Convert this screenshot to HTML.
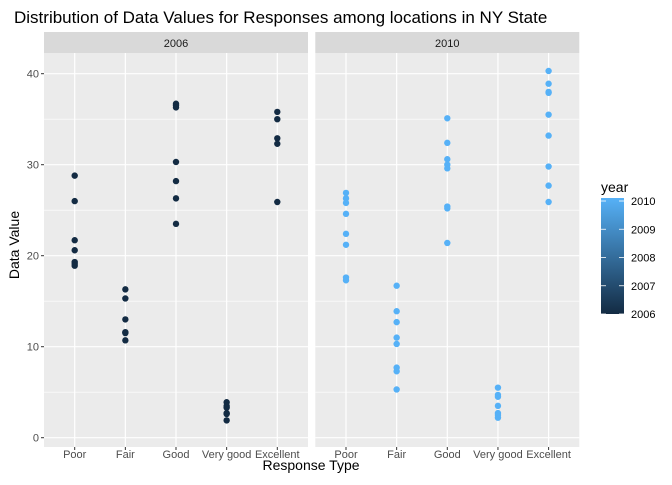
<!DOCTYPE html>
<html><head><meta charset="utf-8"><style>
body{margin:0;background:#fff;font-family:"Liberation Sans",sans-serif}
</style></head><body>
<svg id="c" width="672" height="480" xmlns="http://www.w3.org/2000/svg" font-family="Liberation Sans, sans-serif">
<defs><linearGradient id="g" x1="0" y1="1" x2="0" y2="0"><stop offset="0" stop-color="#132B43"/><stop offset="1" stop-color="#56B1F7"/></linearGradient></defs>
<text x="14" y="23" font-size="17" fill="#000">Distribution of Data Values for Responses among locations in NY State</text>
<g id="plot"></g>
<text x="311" y="470" font-size="14" text-anchor="middle">Response Type</text>
<text transform="translate(19,245) rotate(-90)" font-size="14" text-anchor="middle">Data Value</text>
<g>
<text x="601" y="192" font-size="14">year</text>
<rect x="601" y="198" width="23" height="116" fill="url(#g)"/>
<g id="leg"></g>
</g>
</svg>
<script>
const categories=["Poor","Fair","Good","Very good","Excellent"];
const panels=["2006","2010"];
const yTicks=[0,10,20,30,40];
const legendYears=[2006,2007,2008,2009,2010];
const v2006=[[28.8,26.0,21.7,20.6,19.3,19.1,18.9],[16.3,15.3,13.0,11.6,11.5,10.7],[36.7,36.5,36.3,30.3,28.2,26.3,23.5],[3.9,3.5,3.3,2.7,2.6,1.9],[35.8,35.0,32.9,32.3,25.9]];
const v2010=[[26.9,26.3,25.8,24.6,22.4,21.2,17.6,17.3],[16.7,13.9,12.7,11.0,10.3,7.7,7.3,5.3],[35.1,32.4,30.6,30.0,29.6,25.4,25.2,21.4],[5.5,4.7,4.5,3.5,2.7,2.5,2.2],[40.3,38.9,38.0,37.9,35.5,33.2,29.8,27.7,25.9]];
const series=[v2006,v2010];
const colors=["#132B43","#56B1F7"];
const NS="http://www.w3.org/2000/svg";
const y=v=>437.7-v*9.1;
const pL=[44,315.3],pW=264;
const x=(p,i)=>pL[p]+30.7+i*50.65;
const g=document.getElementById('plot');
function mk(t,a,par){const e=document.createElementNS(NS,t);for(const k in a)e.setAttribute(k,a[k]);(par||g).appendChild(e);return e;}
panels.forEach((lab,p)=>{
  const r=mk('rect',{x:pL[p],y:53,width:pW,height:394,fill:'#EBEBEB'});
  
  
  const s=mk('rect',{x:pL[p],y:32,width:pW,height:21,fill:'#D9D9D9'});
  
  
  const st=mk('text',{x:pL[p]+pW/2,y:47,'font-size':11,'text-anchor':'middle',fill:'#1A1A1A'});st.textContent=lab;
  
  
  for(let k=0;k<yTicks.length-1;k++){const m=(yTicks[k]+yTicks[k+1])/2;mk('line',{x1:pL[p],x2:pL[p]+pW,y1:y(m),y2:y(m),stroke:'#fff','stroke-width':0.6});}
  yTicks.forEach(t=>{mk('line',{x1:pL[p],x2:pL[p]+pW,y1:y(t),y2:y(t),stroke:'#fff','stroke-width':1.2});});
  categories.forEach((c,i)=>{
    mk('line',{x1:x(p,i),x2:x(p,i),y1:53,y2:447,stroke:'#fff','stroke-width':1.2});
    mk('line',{x1:x(p,i),x2:x(p,i),y1:447,y2:450,stroke:'#333'});
    const t=mk('text',{x:x(p,i),y:458,'font-size':11,'text-anchor':'middle',fill:'#4D4D4D'});t.textContent=c;
    
    
    series[p][i].forEach(v=>{
      const d=mk('circle',{cx:x(p,i),cy:y(v),r:3.2,fill:colors[p]});
      
      
    });
  });
});
yTicks.forEach(t=>{
  mk('line',{x1:41,x2:44,y1:y(t),y2:y(t),stroke:'#333'});
  const e=mk('text',{x:39,y:y(t)+4,'font-size':11,'text-anchor':'end',fill:'#4D4D4D'});e.textContent=t;
  
  
});
const lg=document.getElementById('leg');
legendYears.forEach(yr=>{
  const ly=314-(yr-2006)/4*113;
  mk('line',{x1:601,x2:606,y1:ly,y2:ly,stroke:'#fff','stroke-width':0.8},lg);
  mk('line',{x1:619,x2:624,y1:ly,y2:ly,stroke:'#fff','stroke-width':0.8},lg);
  const t=mk('text',{x:631,y:ly+4,'font-size':11,fill:'#000'},lg);t.textContent=yr;
  
  
});
</script>
</body></html>
